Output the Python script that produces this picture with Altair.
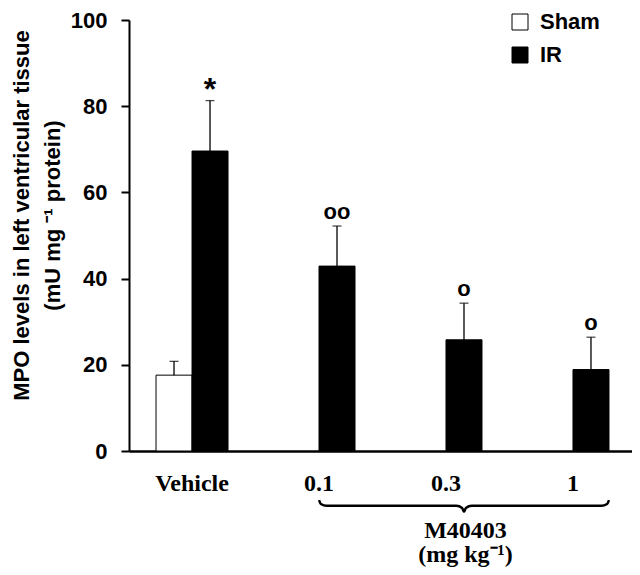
import altair as alt
import pandas as pd

# ---- data ----
groups = ["Vehicle", "0.1", "0.3", "1"]
series = ["Sham", "IR"]
sham_groups = ["Vehicle"]
sham_mean = [17.6]
sham_sem = [3.2]
ir_mean = [69.6, 42.9, 25.8, 18.9]
ir_sem = [11.7, 9.3, 8.5, 7.5]
ir_marks = ["*", "oo", "o", "o"]
y_ticks = [0, 20, 40, 60, 80, 100]

rows = []
for g, m, s in zip(sham_groups, sham_mean, sham_sem):
    rows.append(dict(group=g, series="Sham", mean=m, top=m + s, mark=""))
for g, m, s, k in zip(groups, ir_mean, ir_sem, ir_marks):
    rows.append(dict(group=g, series="IR", mean=m, top=m + s, mark=k))
df = pd.DataFrame(rows)

W, H = 503, 431
PI, PO, ALIGN = 0.433, 0.197, 0.54  # band scale layout
SANS = "Liberation Sans"
SERIF = "Liberation Serif"

# linear "group index" scale matching the band scale (for the brace)
n = len(groups)
step = W / (n - PI + 2 * PO)
left_outer = (W - step * (n - PI)) * ALIGN
bw = step * (1 - PI)
u0 = -(left_outer + bw / 2) / step
u1 = u0 + W / step

# brace under the dose groups: from the left edge of the first dose IR bar
# to the right edge of the last dose IR bar (group-index units)
bar_units = (1 - PI) / 2
bx0 = 1.0
bx1 = 3.0 + bar_units
bxm = (bx0 + bx1) / 2
y_end, y_flat, y_tip = -11.4, -12.7, -14.1
brace_u = [bx0, bx0 + 0.015, bx0 + 0.06, bxm - 0.06, bxm - 0.015, bxm,
           bxm + 0.015, bxm + 0.06, bx1 - 0.06, bx1 - 0.015, bx1]
brace_v = [y_end, y_flat + 0.4, y_flat, y_flat, y_flat - 0.5, y_tip,
           y_flat - 0.5, y_flat, y_flat, y_flat + 0.4, y_end]
brace = pd.DataFrame({"i": list(range(len(brace_u))), "u": brace_u, "mean": brace_v})

x_enc = alt.X(
    "group:N", sort=groups,
    scale=alt.Scale(domain=groups, paddingInner=PI, paddingOuter=PO, align=ALIGN),
    axis=alt.Axis(
        title=["M40403", "(mg kg⁻¹)"], labelAngle=0, labelFont=SERIF,
        labelFontWeight="bold", labelFontSize=24, labelColor="black",
        labelPadding=20, ticks=False, domainColor="black", domainWidth=2.5,
        titleFont=SERIF, titleFontSize=24, titleFontWeight="bold",
        titleColor="black", titleX=336, titleY=86, titleBaseline="alphabetic",
        titleLineHeight=24, titleAlign="center",
    ),
)
xo_enc = alt.XOffset("series:N", scale=alt.Scale(domain=series, paddingInner=0, paddingOuter=0))
y_scale = alt.Scale(domain=[0, 100], nice=False)
y_axis = alt.Axis(
    values=y_ticks, grid=False,
    title=["MPO levels in left ventricular tissue", "(mU mg ⁻¹  protein)"],
    titleFont=SANS, titleFontSize=22, titleFontWeight="bold", titleColor="black",
    titleAngle=-90, titleX=-108, titleY=195, titleAlign="center",
    titleBaseline="middle", titleLineHeight=31,
    labelFont=SANS, labelFontSize=22, labelFontWeight="bold", labelColor="black",
    labelPadding=14, tickSize=8, tickWidth=2, tickColor="black",
    domainWidth=2, domainColor="black",
)
y_enc = alt.Y("mean:Q", scale=y_scale, axis=y_axis)

base = alt.Chart(df)

bars = base.mark_bar(stroke="black", strokeWidth=1).encode(
    x=x_enc, xOffset=xo_enc, y=y_enc,
    fill=alt.Fill(
        "series:N", scale=alt.Scale(domain=series, range=["white", "black"]),
        legend=alt.Legend(
            title=None, orient="none", legendX=380, legendY=-9, symbolType="square",
            symbolSize=256, symbolStrokeColor="black", symbolStrokeWidth=1,
            labelFont=SANS, labelFontSize=22, labelFontWeight="bold",
            labelColor="black", labelOffset=9, rowPadding=11, padding=0,
        ),
    ),
)

rules = base.mark_rule(color="black", strokeWidth=1.3).encode(
    x=x_enc, xOffset=xo_enc, y=y_enc, y2="top:Q"
)
caps = base.mark_tick(color="black", thickness=1.3, size=9).encode(
    x=x_enc, xOffset=xo_enc, y=alt.Y("top:Q", scale=y_scale, axis=y_axis)
)
circles = base.transform_filter(alt.datum.mark != "*").transform_filter(alt.datum.mark != "").mark_text(
    font=SANS, fontWeight="bold", fontSize=22, baseline="alphabetic", dy=-7, color="black"
).encode(x=x_enc, xOffset=xo_enc, y=alt.Y("top:Q", scale=y_scale, axis=y_axis), text="mark:N")
star = base.transform_filter(alt.datum.mark == "*").mark_text(
    font=SANS, fontWeight="bold", fontSize=32, baseline="alphabetic", dy=-1, color="black"
).encode(x=x_enc, xOffset=xo_enc, y=alt.Y("top:Q", scale=y_scale, axis=y_axis), text="mark:N")

brace_line = alt.Chart(brace).mark_line(
    color="black", strokeWidth=2.5, interpolate="monotone", clip=False
).encode(
    x=alt.X("u:Q", scale=alt.Scale(domain=[u0, u1], nice=False, zero=False), axis=None),
    y=y_enc,
    order="i:Q",
)

main = alt.layer(bars, rules, caps, circles, star)
chart = alt.layer(main, brace_line).resolve_scale(x="independent").properties(
    width=W, height=H,
    autosize=alt.AutoSizeParams(type="none"),
    padding={"left": 121, "top": 12, "right": 0, "bottom": 116},
).configure_view(stroke=None)

chart.save("out.html", embed_options={"renderer": "svg", "actions": False})
